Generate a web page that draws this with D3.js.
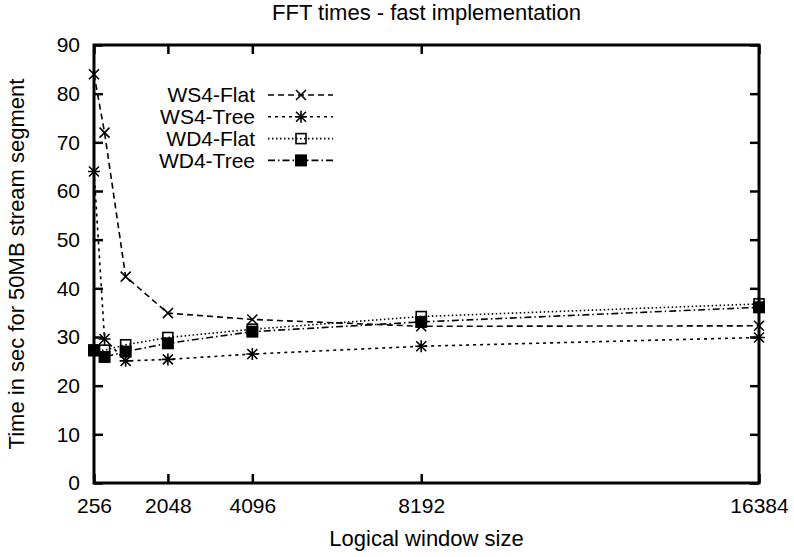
<!DOCTYPE html>
<html>
<head>
<meta charset="utf-8">
<script src="https://cdn.jsdelivr.net/npm/d3@7"></script>
<style>
  body { margin: 0; background: #fff; }
  svg text { font-family: "Liberation Sans", Arial, sans-serif; fill: #000; }
</style>
</head>
<body>
<div id="chart"></div>
<script>
// window sizes (x) and times per series (y)
const windowSizes = [256, 512, 1024, 2048, 4096, 8192, 16384];
const ws4Flat = [84, 72, 42.4, 34.9, 33.6, 32.2, 32.3];
const ws4Tree = [64, 29.6, 25.1, 25.4, 26.5, 28.1, 29.9];
const wd4Flat = [27.2, 27.3, 28.4, 29.9, 31.6, 34.2, 36.8];
const wd4Tree = [27.3, 25.9, 27.0, 28.7, 31.1, 33.1, 36.1];
const xTicks = [256, 2048, 4096, 8192, 16384];
const yTicks = [0, 10, 20, 30, 40, 50, 60, 70, 80, 90];

const series = [
    {name: "WS4-Flat", values: ws4Flat, dash: "6,4", marker: "cross"},
    {name: "WS4-Tree", values: ws4Tree, dash: "3,4", marker: "star"},
    {name: "WD4-Flat", values: wd4Flat, dash: "1.5,2.5", marker: "box"},
    {name: "WD4-Tree", values: wd4Tree, dash: "7,3,1.5,3", marker: "fbox"}
];

var W = 794, H = 557;
var margin = {top: 45, right: 35, bottom: 74, left: 94};
var width = W - margin.left - margin.right;
var height = H - margin.top - margin.bottom;

const svg = d3.select("#chart")
    .append("svg")
    .attr("width", W)
    .attr("height", H);

const g = svg.append("g")
    .attr("transform", `translate(${margin.left},${margin.top})`);

var x = d3.scaleLinear().domain([256, 16384]).range([0, width]);
var y = d3.scaleLinear().domain([0, 90]).range([height, 0]);

// ticks on all four sides, pointing inward
const tick = 9;
g.append("g")
    .attr("transform", `translate(0,${height})`)
    .call(d3.axisBottom(x).tickValues(xTicks).tickFormat(d3.format("d")).tickSize(-tick).tickPadding(tick + 6))
    .call(a => a.select(".domain").remove());
g.append("g")
    .call(d3.axisTop(x).tickValues(xTicks).tickSize(-tick).tickFormat(""))
    .call(a => a.select(".domain").remove());
g.append("g")
    .call(d3.axisLeft(y).tickValues(yTicks).tickSize(-tick).tickPadding(tick + 5))
    .call(a => a.select(".domain").remove());
g.append("g")
    .attr("transform", `translate(${width},0)`)
    .call(d3.axisRight(y).tickValues(yTicks).tickSize(-tick).tickFormat(""))
    .call(a => a.select(".domain").remove());

g.selectAll(".tick line").attr("stroke", "#000").attr("stroke-width", 2.5);
g.selectAll(".tick text").style("font-size", "21px");

g.append("rect")
    .attr("width", width).attr("height", height)
    .attr("fill", "none").attr("stroke", "#000").attr("stroke-width", 3);

// marker drawing
function drawMarker(sel, type, cx, cy) {
    const s = 5;
    if (type === "cross") {
        sel.append("path")
            .attr("d", `M${cx - s},${cy - s}L${cx + s},${cy + s}M${cx - s},${cy + s}L${cx + s},${cy - s}`)
            .attr("stroke", "#000").attr("stroke-width", 1.6);
    } else if (type === "star") {
        sel.append("path")
            .attr("d", `M${cx - s},${cy - s}L${cx + s},${cy + s}M${cx - s},${cy + s}L${cx + s},${cy - s}M${cx - s - 1},${cy}L${cx + s + 1},${cy}M${cx},${cy - s - 1}L${cx},${cy + s + 1}`)
            .attr("stroke", "#000").attr("stroke-width", 1.6);
    } else if (type === "box") {
        sel.append("rect")
            .attr("x", cx - s).attr("y", cy - s).attr("width", 2 * s).attr("height", 2 * s)
            .attr("fill", "none").attr("stroke", "#000").attr("stroke-width", 1.6);
    } else {
        sel.append("rect")
            .attr("x", cx - s - 1).attr("y", cy - s - 1).attr("width", 2 * s + 2).attr("height", 2 * s + 2)
            .attr("fill", "#000");
    }
}

const line = d3.line()
    .x(d => x(d[0]))
    .y(d => y(d[1]));

series.forEach(s => {
    const pts = windowSizes.map((w, i) => [w, s.values[i]]);
    const sg = g.append("g");
    sg.append("path")
        .datum(pts)
        .attr("d", line)
        .attr("fill", "none")
        .attr("stroke", "#000")
        .attr("stroke-width", 1.6)
        .attr("stroke-dasharray", s.dash);
    pts.forEach(p => drawMarker(sg, s.marker, x(p[0]), y(p[1])));
});

// legend
const legend = g.append("g").attr("transform", "translate(161,50)");
series.forEach((s, i) => {
    const ly = i * 21.8;
    legend.append("text")
        .attr("x", 0).attr("y", ly)
        .attr("dy", "0.35em")
        .attr("text-anchor", "end")
        .style("font-size", "21px")
        .text(s.name);
    legend.append("line")
        .attr("x1", 13).attr("x2", 78)
        .attr("y1", ly).attr("y2", ly)
        .attr("stroke", "#000").attr("stroke-width", 1.6)
        .attr("stroke-dasharray", s.dash);
    drawMarker(legend, s.marker, 46, ly);
});

// title and axis labels
svg.append("text")
    .attr("x", margin.left + width / 2).attr("y", 20)
    .attr("text-anchor", "middle")
    .style("font-size", "22px")
    .text("FFT times - fast implementation");

svg.append("text")
    .attr("x", margin.left + width / 2).attr("y", 546)
    .attr("text-anchor", "middle")
    .style("font-size", "22px")
    .text("Logical window size");

svg.append("text")
    .attr("transform", `translate(24,${margin.top + height / 2}) rotate(-90)`)
    .attr("text-anchor", "middle")
    .style("font-size", "22px")
    .text("Time in sec for 50MB stream segment");
</script>
</body>
</html>
